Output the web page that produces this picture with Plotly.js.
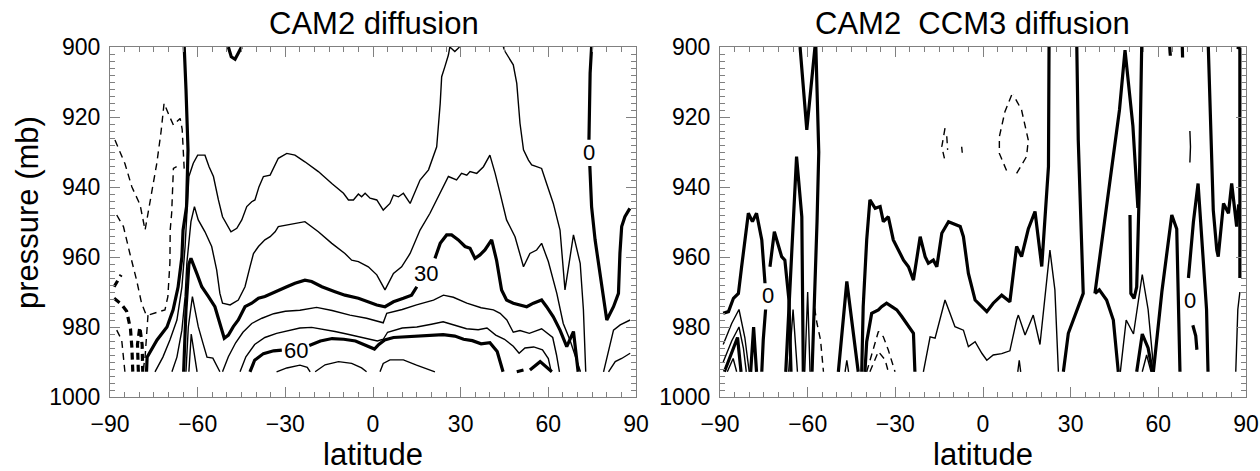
<!DOCTYPE html>
<html><head><meta charset="utf-8">
<script src="https://cdn.plot.ly/plotly-3.0.1.min.js"></script>
<style>body{margin:0;background:#fff}#chart{width:1260px;height:471px}</style>
</head><body><div id="chart"></div>
<script>
// ---------- axis ticks ----------
const latTicks = [-90,-60,-30,0,30,60,90];
const presTicks = [900,920,940,960,980,1000];

// ---------- LEFT PANEL: CAM2 diffusion (pairs of [latitude, pressure]) ----------
const L0a = [[-77.5,992.8],[-77.3,988.6],[-73.9,983.7],[-70.5,980.0],[-68.4,975.1],[-66.7,968.6],[-65.4,960.0],[-65.0,952.3],[-63.8,945.6],[-63.3,929.4],[-64.0,912.0],[-64.6,900.0]];
const L0b = [[-49.5,900],[-48.5,902.8],[-47.2,903.5],[-45.8,901.5],[-45.0,900]];
const L0c = [[74.8,900],[74.3,907.5],[73.9,926.5]];
const L0d = [[74.2,934.0],[74.8,945.6],[76.0,955.1],[77.7,964.7],[78.8,972.3],[80.0,978.0],[82.3,974.2],[84.0,970.4],[84.5,958.9],[85.1,951.3],[86.2,948.5],[87.9,946.1]];
const L10a = [[-74.6,992.8],[-71.9,988.6],[-69.5,983.7],[-67.1,978.0],[-65.4,968.6],[-64.3,957.0],[-63.0,937.0],[-61.5,933.2],[-60.0,930.9],[-57.5,930.9],[-56.1,934.2],[-54.6,937.0],[-52.9,943.7],[-51.5,948.5],[-48.6,952.8],[-46.6,951.8],[-44.9,949.4],[-43.2,945.6],[-41.5,944.2],[-40.4,943.7],[-39.0,939.9],[-37.5,937.0],[-35.2,936.6],[-34.1,934.7],[-32.4,931.8],[-29.5,930.4],[-26.7,930.9],[-23.3,932.8],[-18.7,935.6],[-14.1,939.0],[-10.1,941.8],[-8.4,943.7],[-6.7,943.7],[-5.0,942.0],[-3.9,942.8],[-2.7,941.8],[-1.0,943.2],[1.3,943.7],[3.5,946.6],[5.8,944.7],[7.0,942.3],[8.7,942.8],[10.4,941.8],[12.7,944.7],[14.4,941.3],[16.1,938.0],[19.0,935.1],[20.6,931.3],[21.8,928.5],[23.0,916.1],[23.5,908.5],[24.6,905.6],[25.8,902.3],[26.3,900.0],[28.0,901.3],[29.6,900.0]];
const L10b = [[44.6,900],[45.2,901.3],[48.0,905.1],[49.2,910.4],[50.3,921.8],[51.5,929.4],[53.2,932.3],[54.3,933.7],[56.0,934.2],[57.7,934.7],[59.4,939.0],[61.7,944.7],[64.0,952.3],[65.7,969.4],[68.6,953.7],[70.9,961.8],[72.0,975.0],[72.8,992.8]];
const L20 = [[-68.8,992.8],[-67.1,988.6],[-65.4,980.9],[-64.3,971.4],[-63.7,961.7],[-62.3,949.9],[-61.1,945.6],[-59.8,949.4],[-57.5,952.8],[-55.2,957.0],[-53.5,963.7],[-52.4,970.4],[-51.5,973.2],[-48.9,973.7],[-46.1,972.3],[-43.8,968.5],[-42.1,962.8],[-40.9,959.0],[-39.2,957.0],[-37.0,955.1],[-35.2,954.2],[-33.5,952.8],[-32.4,951.3],[-29.5,950.9],[-26.7,950.4],[-23.3,949.9],[-18.7,952.8],[-14.1,956.1],[-9.6,959.0],[-7.3,960.9],[-5.0,961.3],[-1.6,962.8],[1.3,965.1],[4.1,969.4],[7.0,964.7],[9.8,962.8],[12.7,959.0],[16.1,952.3],[19.5,947.5],[23.0,941.8],[25.8,937.0],[28.6,938.0],[30.3,936.1],[32.1,936.6],[33.2,935.6],[35.5,936.1],[37.8,934.2],[40.0,930.9],[41.8,936.1],[43.5,941.8],[45.7,949.4],[48.6,954.2],[51.5,962.8],[53.7,959.0],[56.0,958.0],[57.7,956.1],[60.0,961.3],[62.9,970.4],[65.1,979.0],[67.4,983.7],[69.7,989.4],[71.0,992.8]];
const L30a = [[-64.8,992.8],[-64.0,975.0],[-63.0,962.0],[-62.3,960.4],[-60.3,964.7],[-58.6,968.5],[-56.3,971.3],[-54.1,974.2],[-52.4,979.0],[-50.9,983.2],[-49.5,982.3],[-47.8,979.9],[-46.1,978.0],[-43.8,974.2],[-41.5,973.2],[-39.2,971.8],[-37.0,971.3],[-34.7,970.4],[-32.4,969.4],[-29.5,968.5],[-26.7,967.5],[-23.3,966.6],[-21.0,967.0],[-17.5,968.5],[-13.0,969.9],[-9.6,970.9],[-5.0,971.8],[-1.6,972.8],[1.3,973.7],[4.1,974.2],[7.0,972.8],[10.4,971.8],[13.2,970.9],[15.0,968.5]];
const L30b = [[21.2,960.4],[23.0,956.1],[25.2,953.7],[26.9,953.7],[29.2,955.1],[31.5,957.0],[33.2,957.5],[34.9,960.4],[36.6,959.4],[38.3,958.0],[40.6,955.1],[42.3,961.0],[44.0,969.4],[45.7,972.3],[48.0,973.2],[50.3,973.7],[52.6,974.2],[54.9,973.2],[57.7,972.3],[59.4,974.2],[61.7,977.1],[64.0,980.9],[66.3,985.6],[68.6,981.3],[70.2,992.8]];
const L40a = [[-64.0,992.8],[-63.2,980.0],[-61.8,971.3],[-59.8,979.9],[-58.2,984.6],[-56.8,988.6],[-54.8,988.9],[-52.4,992.8]];
const L40b = [[-51.5,992.8],[-49.5,988.5],[-47.0,984.5],[-44.5,981.5],[-41.5,979.0],[-38.0,977.5],[-34.0,976.2],[-30.0,975.5],[-25.0,975.2],[-19.3,974.4],[-14.0,975.3],[-7.9,976.6],[-2.2,977.5],[1.5,978.3],[3.5,978.8],[4.7,976.1],[10.0,975.0],[14.9,973.7],[20.7,972.3],[24.1,970.9],[27.5,971.5],[32.1,973.2],[37.0,974.5],[41.2,975.1],[43.5,976.1],[45.8,978.0],[48.0,981.5],[50.3,981.0],[53.5,981.8],[57.7,980.5],[61.5,983.0],[62.8,988.0],[63.8,992.8]];
const L50a = [[-63.0,992.8],[-62.2,982.0],[-60.2,992.8]];
const L50b = [[-45.5,992.8],[-43.5,988.5],[-40.5,985.0],[-37.0,983.0],[-33.0,981.8],[-29.0,981.0],[-25.0,980.3],[-21.0,980.1],[-17.0,980.6],[-13.0,981.3],[-9.0,982.0],[-5.0,982.8],[-1.5,983.5],[1.5,984.0],[3.5,983.5],[5.0,981.5],[10.0,980.3],[15.0,980.0],[20.0,979.2],[24.0,978.5],[28.0,979.5],[32.0,980.5],[36.0,980.8],[39.0,980.3],[42.0,982.3],[45.0,983.5],[48.0,985.5],[50.0,987.5],[52.0,986.0],[55.0,985.7],[58.0,986.5],[60.0,989.0],[61.0,992.8]];
const L60a = [[-42.1,992.8],[-40.5,989.5],[-37.5,987.6],[-34.0,986.8],[-31.2,986.6]];
const L60b = [[-21.8,985.3],[-18.0,984.0],[-14.0,983.3],[-10.0,983.5],[-6.0,984.0],[-2.0,985.5],[0.5,986.3],[2.0,985.0],[4.0,983.7],[7.0,983.0],[10.4,982.8],[16.0,982.5],[20.5,982.2],[24.0,982.2],[28.0,982.6],[31.0,983.5],[34.0,983.9],[37.0,984.8],[40.0,984.5],[42.5,987.0],[44.5,992.8]];
const L60c = [[49.2,992.8],[51.5,992.3]];
const L60d = [[53.7,992.3],[57.2,989.9],[61.2,992.8]];
const L70a = [[-33.0,992.8],[-29.5,991.7],[-25.0,990.9],[-22.5,991.5],[-21.5,992.8]];
const L70b = [[-19.8,992.8],[-16.4,990.8],[-11.8,989.9],[-7.3,990.4],[-3.9,991.7],[-2.2,992.8]];
const L70c = [[2.4,992.8],[3.5,990.4],[5.8,989.4],[10.4,989.4],[14.9,990.9],[21.2,992.8]];
const LR1 = [[78.9,992.8],[82.3,980.9],[84.6,979.4],[88.0,978.0]];
const LR2 = [[80.6,992.8],[82.9,989.9],[85.1,989.0],[88.0,987.5]];
const Ln10 = [[-88.3,926.6],[-86.5,930.0],[-84.9,933.3],[-82.5,940.0],[-79.7,945.1],[-78.0,952.3],[-76.0,942.5],[-74.0,933.3],[-72.5,924.0],[-71.5,916.1],[-69.8,919.5],[-68.3,922.3],[-66.0,920.4],[-65.3,923.5],[-64.6,935.0]];
const Ln20a = [[-87.7,948.0],[-85.4,951.3],[-83.2,959.0],[-80.9,966.6],[-79.2,973.2],[-77.8,976.2],[-77.0,976.6],[-73.6,975.6],[-71.2,975.1],[-70.2,971.3],[-69.5,961.7],[-69.4,952.3],[-68.9,947.5],[-68.3,934.7],[-67.2,934.2]];
const Ln20b = [[-77.0,976.6],[-77.3,980.9],[-78.0,988.6],[-78.7,992.8]];
const Ln20c = [[-87.7,980.9],[-86.0,983.7],[-84.9,992.8]];
const Ln30a = [[-88.6,968.5],[-86.2,965.1]];
const Ln30b = [[-88.6,971.8],[-86.2,973.4],[-84.3,975.5],[-83.0,980.5],[-82.5,986.0],[-82.2,992.8]];
const Ln30c = [[-80.3,992.8],[-80.6,985.0],[-79.8,980.0],[-79.0,985.0],[-78.8,992.8]];

// ---------- RIGHT PANEL: CAM2 CCM3 diffusion ----------
const R0a = [[-88.9,976.1],[-87.1,975.6],[-85.4,971.8],[-83.7,970.4],[-82.6,962.8],[-80.3,947.5],[-78.9,949.9],[-77.5,947.5],[-75.7,955.1],[-74.6,967.5]];
const R0b = [[-72.9,962.8],[-71.4,952.8],[-68.9,959.9],[-67.8,960.9],[-66.4,972.3],[-65.7,992.8]];
const R0c = [[-74.4,975.0],[-75.2,983.7],[-75.7,992.8]];
const Rh1 = [[-88.9,985.0],[-86.0,979.0],[-83.5,975.0],[-81.5,983.0],[-80.0,992.8]];
const Rh2 = [[-88.9,990.0],[-86.0,984.0],[-83.5,980.0],[-82.0,986.0],[-81.0,992.8]];
const Rh3 = [[-88.5,992.8],[-86.0,987.0],[-84.0,983.0],[-82.8,992.8]];
const Rh4 = [[-87.5,992.8],[-85.5,989.0],[-84.3,992.8]];
const Rh5 = [[-79.5,992.8],[-78.5,980.0],[-77.5,992.8]];
const RS1 = [[-67.5,992.8],[-65.5,960.0],[-63.8,931.3],[-62.0,948.5],[-61.5,992.8]];
const RS2 = [[-62.6,900],[-60.3,923.7],[-57.5,900]];
const RS3 = [[-57.2,900],[-56.2,930.0],[-56.8,950.0],[-57.8,975.0],[-58.5,992.8]];
const RS4 = [[-66.5,992.8],[-65.0,975.0],[-63.5,992.8]];
const RS5 = [[-61.0,992.8],[-60.0,970.0],[-59.2,992.8]];
const RF = [[-57.6,974.7],[-56.8,979.0],[-55.6,983.7],[-54.6,992.8]];
const RG = [[-49.5,992.8],[-46.6,967.0],[-42.7,992.8]];
const RGt = [[-47.2,992.8],[-46.6,989.5],[-46.0,992.8]];
const RH = [[-41.5,992.8],[-41.0,974.2],[-39.8,955.1],[-38.7,943.7],[-36.9,946.1],[-35.2,945.6],[-34.1,949.9],[-32.4,948.5],[-30.7,955.1],[-29.0,958.0],[-27.2,960.9],[-25.5,962.8],[-23.8,966.6],[-21.5,954.2],[-19.8,959.9],[-18.7,961.8],[-17.0,960.9],[-15.8,962.8],[-14.1,953.2],[-11.8,949.9],[-10.1,950.4],[-7.8,951.3],[-6.7,954.2],[-5.0,964.7],[-2.7,972.3],[-0.4,974.2],[1.3,975.6],[3.5,973.2],[6.4,970.9],[9.2,972.8],[11.5,957.0],[13.2,959.9],[15.5,952.0],[17.8,947.0],[20.1,962.7],[22.4,934.2],[22.6,900]];
const RI = [[-40.4,992.8],[-39.8,984.2],[-38.1,976.1],[-35.8,975.1],[-34.7,974.2],[-33.0,973.2],[-31.2,974.2],[-29.5,975.1],[-27.8,977.0],[-25.5,979.9],[-23.8,981.8],[-23.3,992.8]];
const RJ1 = [[-39.8,992.8],[-37.5,986.6],[-35.8,981.3],[-34.1,982.8],[-32.4,986.6],[-30.1,992.8]];
const RJ2 = [[-38.7,992.8],[-35.8,987.0],[-33.5,989.4],[-32.4,992.8]];
const RK = [[-20.4,992.8],[-18.1,982.8],[-16.4,983.2],[-13.0,972.3],[-11.3,976.1],[-9.6,979.9],[-6.7,980.9],[-5.0,985.6],[-2.7,984.2],[-0.4,987.5],[1.3,989.5],[3.5,988.0],[6.4,987.6],[9.2,986.8],[11.5,978.0],[12.1,976.6],[14.4,982.3],[17.2,976.6],[19.5,985.0],[22.9,958.0],[24.6,969.4],[25.8,992.8]];
const RK2 = [[11.9,992.8],[12.4,989.5],[12.9,992.8]];
const Rd1a = [[9.8,913.7],[7.5,918.5],[5.6,925.6],[5.6,930.4],[8.7,936.6]];
const Rd1b = [[11.5,936.1],[14.9,931.3],[15.5,926.6],[13.2,918.0],[10.4,913.7]];
const Rd2 = [[-13.0,923.2],[-14.1,928.5],[-13.2,931.8]];
const Rd3 = [[-12.4,925.5],[-12.1,929.4]];
const Rd4 = [[-7.3,928.5],[-7.1,930.2]];
const RV1 = [[32.1,900],[32.6,926.6],[34.3,970.4],[29.2,981.8],[27.5,992.8]];
const RV2 = [[38.3,970.4],[39.8,969.4],[42.3,972.3],[44.6,978.0],[46.3,992.8]];
const RV3a = [[38.3,970.4],[41.5,950.0],[44.6,930.0],[46.7,918.0],[48.6,900.9],[51.3,922.6],[53.0,946.0]];
const RV3b = [[50.3,948.0],[50.6,970.4],[51.7,971.8],[52.6,968.5],[53.5,940.0],[54.3,900]];
const RV4 = [[58.3,992.8],[61.2,970.0],[64.6,948.0],[66.3,952.0],[67.4,992.8]];
const RV5 = [[70.3,966.0],[72.0,950.0],[73.6,939.0],[75.3,961.0],[76.5,975.0],[77.0,992.8]];
const RV5b = [[71.8,979.5],[72.8,982.5],[73.2,986.5]];
const RV6 = [[77.1,900],[78.2,935.0],[78.8,946.6],[80.0,958.0],[80.5,959.9],[82.3,944.7],[84.0,947.5],[85.1,939.0],[86.8,951.3],[87.5,945.0]];
const RV7 = [[86.9,900],[87.9,900.5],[87.9,966.0]];
const RV8 = [[86.5,992.8],[87.2,975.0],[87.9,970.0]];
const RN1 = [[47.0,992.8],[49.0,978.0],[51.5,982.0],[54.5,965.0],[56.5,975.0],[58.5,992.8]];
const RN2 = [[52.6,992.8],[54.5,982.0],[56.5,986.0],[58.0,992.8]];
const RN3 = [[54.5,992.8],[56.0,988.0],[57.5,992.8]];
const RT1 = [[68.2,900],[68.3,903.0]];
const RT2 = [[63.9,900],[64.1,902.5]];
const RT3 = [[70.8,924.0],[71.0,928.5],[70.8,933.0]];

// ---------- styles table: [data, panel, thick, dashed] ----------
const spec = [
  [L0a,1,1,0],[L0b,1,1,0],[L0c,1,1,0],[L0d,1,1,0],
  [L10a,1,0,0],[L10b,1,0,0],[L20,1,0,0],
  [L30a,1,1,0],[L30b,1,1,0],
  [L40a,1,0,0],[L40b,1,0,0],[L50a,1,0,0],[L50b,1,0,0],
  [L60a,1,1,0],[L60b,1,1,0],[L60c,1,1,0],[L60d,1,1,0],
  [L70a,1,0,0],[L70b,1,0,0],[L70c,1,0,0],[LR1,1,0,0],[LR2,1,0,0],
  [Ln10,1,0,1],[Ln20a,1,0,1],[Ln20b,1,0,1],[Ln20c,1,0,1],
  [Ln30a,1,1,1],[Ln30b,1,1,1],[Ln30c,1,1,1],
  [R0a,2,1,0],[R0b,2,1,0],[R0c,2,1,0],[Rh1,2,0,0],[Rh2,2,0,0],[Rh3,2,1,0],[Rh4,2,0,0],[Rh5,2,1,0],
  [RS1,2,1,0],[RS2,2,1,0],[RS3,2,1,0],[RS4,2,0,0],[RS5,2,0,0],[RF,2,0,1],
  [RG,2,1,0],[RGt,2,0,0],[RH,2,1,0],[RI,2,1,0],[RJ1,2,0,1],[RJ2,2,0,1],[RK,2,0,0],[RK2,2,0,0],
  [Rd1a,2,0,1],[Rd1b,2,0,1],[Rd2,2,0,1],[Rd3,2,0,1],[Rd4,2,0,1],
  [RV1,2,1,0],[RV2,2,1,0],[RV3a,2,1,0],[RV3b,2,1,0],[RV4,2,1,0],[RV5,2,1,0],[RV5b,2,1,0],[RV6,2,1,0],[RV7,2,1,0],[RV8,2,0,0],
  [RN1,2,0,0],[RN2,2,1,0],[RN3,2,0,0],[RT1,2,1,0],[RT2,2,1,0],[RT3,2,0,0]
];

const traces = spec.map(([d,panel,thick,dashed]) => ({
  type:'scatter', mode:'lines',
  x:d.map(v=>v[0]), y:d.map(v=>v[1]),
  xaxis: panel===1?'x':'x2', yaxis: panel===1?'y':'y2',
  line:{color:'#000', width: thick?3.2:1.4, dash: dashed?'7px,5px':'solid'},
  hoverinfo:'skip', showlegend:false
}));

const FONT = 'Liberation Sans, Arial, Helvetica, sans-serif';
const AX = '#808080';
function xax(dom, anchor){
  return {domain:dom, anchor:anchor, range:[-90,90], tickvals:latTicks, ticks:'inside', ticklen:10, tickwidth:1, tickcolor:AX,
    minor:{dtick:5, tick0:0, ticks:'inside', ticklen:5, tickwidth:1, tickcolor:AX},
    showline:true, linecolor:AX, linewidth:1, mirror:'allticks', showgrid:false, zeroline:false,
    tickfont:{family:FONT, size:23, color:'#000'}, ticklabelstandoff:6};
}
function yax(anchor){
  return {domain:[1-397/471, 1-47/471], anchor:anchor, range:[1000,900], tickvals:presTicks, ticks:'inside', ticklen:10, tickwidth:1, tickcolor:AX,
    minor:{dtick:2, tick0:900, ticks:'inside', ticklen:5, tickwidth:1, tickcolor:AX},
    showline:true, linecolor:AX, linewidth:1, mirror:'allticks', showgrid:false, zeroline:false,
    tickfont:{family:FONT, size:23, color:'#000'}, ticklabelstandoff:4};
}

const lab = (x,y,t,xr,yr)=>({x:x,y:y,xref:xr,yref:yr,text:t,showarrow:false,font:{family:FONT,size:22,color:'#000'}});
const ttl = (xp,yp,t,size,angle)=>({x:xp/1260,y:1-yp/471,xref:'paper',yref:'paper',text:t,showarrow:false,textangle:angle||0,font:{family:FONT,size:size,color:'#000'},xanchor:'center',yanchor:'middle'});
const btm = (xp,t)=>({x:xp/1260,y:0,xref:'paper',yref:'paper',text:t,showarrow:false,font:{family:FONT,size:31,color:'#000'},xanchor:'center',yanchor:'bottom',borderpad:0,yshift:-2});

const layout = {
  width:1260, height:471, margin:{l:0,r:0,t:0,b:0}, paper_bgcolor:'#fff', plot_bgcolor:'#fff', showlegend:false,
  xaxis: xax([110/1260,636/1260],'y'),
  yaxis: yax('x'),
  xaxis2: xax([720/1260,1246/1260],'y2'),
  yaxis2: yax('x2'),
  annotations:[
    ttl(374,24,'CAM2 diffusion',31),
    ttl(972,24,'CAM2\u00a0\u00a0CCM3 diffusion',31),
    btm(373,'latitude'),
    btm(983,'latitude'),
    ttl(27,213,'pressure (mb)',31,-90),
    lab(18.2,964.8,'30','x','y'),
    lab(-26.4,986.8,'60','x','y'),
    lab(73.8,930.2,'0','x','y'),
    lab(-73.5,971.0,'0','x2','y2'),
    lab(70.8,972.5,'0','x2','y2')
  ]
};

Plotly.newPlot('chart', traces, layout, {staticPlot:true, displayModeBar:false});
</script></body></html>
